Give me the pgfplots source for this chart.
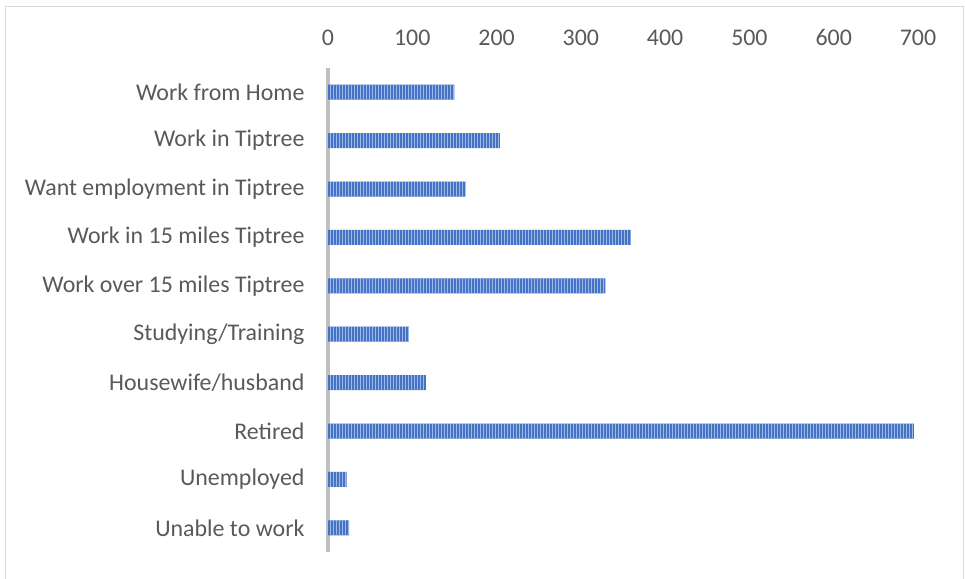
\documentclass[border=0pt]{standalone}
\usepackage{fontspec}
\setmainfont{Carlito}
\usepackage{pgfplots}
\pgfplotsset{compat=1.18}
\usetikzlibrary{patterns.meta}
\definecolor{barblue}{HTML}{4472C4}
\definecolor{stripe}{HTML}{9FB8E4}
\definecolor{txt}{HTML}{595959}
\definecolor{axgray}{HTML}{BFBFBF}
\definecolor{frame}{HTML}{D9D9D9}
\begin{document}
\begin{tikzpicture}
\useasboundingbox (0bp,0bp) rectangle (965bp,-579bp);
\draw[frame, line width=1bp] (5bp,-6bp) rectangle (963bp,-585bp);
\begin{axis}[
  at={(328bp,-552bp)}, anchor=south west,
  width=590bp, height=484bp, scale only axis,
  xbar, bar width=15bp,
  xmin=0, xmax=700,
  ymin=-0.5, ymax=9.5, y dir=reverse,
  ytick={0,...,9},
  yticklabels={Work from Home,Work in Tiptree,Want employment in Tiptree,Work in 15 miles Tiptree,Work over 15 miles Tiptree,Studying/Training,Housewife/husband,Retired,Unemployed,Unable to work},
  xtick={0,100,...,700},
  xticklabel pos=top,
  major tick length=0pt,
  axis line style={draw=none},
  /pgf/number format/assume math mode=true,
  tick label style={font=\fontsize{24}{28}\selectfont, text=txt},
  xticklabel style={yshift=19bp},
  yticklabel style={xshift=-20bp},
  extra x ticks={0}, extra x tick labels={},
  extra x tick style={grid=major, major grid style={line width=3bp, draw=axgray}},
  clip=false,
]
\addplot[draw=none, fill=barblue, postaction={pattern={Lines[angle=90,distance=3bp,line width=1bp]}, pattern color=stripe}] coordinates {
(150,0) (204,1) (163,2) (359,3) (329,4) (96,5) (116,6) (695,7) (22,8) (25,9)};
\end{axis}
\end{tikzpicture}
\end{document}
